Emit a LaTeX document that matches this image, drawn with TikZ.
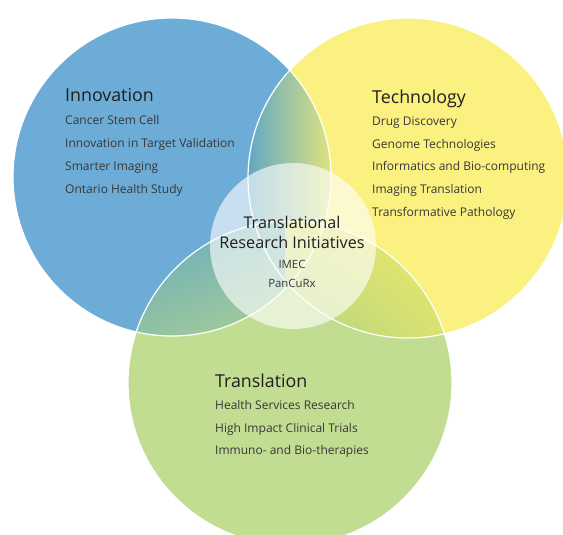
\documentclass[tikz,border=0pt]{standalone}
\usepackage{fontspec}
\setmainfont{Open Sans}
\usetikzlibrary{shadings}

\definecolor{innblue}{RGB}{108,172,215}
\definecolor{techyellow}{RGB}{250,241,128}
\definecolor{transgreen}{RGB}{192,221,146}
\definecolor{itA}{RGB}{92,166,200}
\definecolor{itB}{RGB}{236,234,118}
\definecolor{igA}{RGB}{100,170,195}
\definecolor{igB}{RGB}{118,180,182}
\definecolor{igC}{RGB}{150,196,160}
\definecolor{igD}{RGB}{182,214,140}
\definecolor{tgA}{RGB}{222,228,112}
\definecolor{tgB}{RGB}{238,234,105}
\definecolor{tgC}{RGB}{172,208,135}
\definecolor{tgD}{RGB}{215,226,112}

\def\innc{(172,177) circle (159pt)}
\def\techc{(408,178) circle (160pt)}
\def\transc{(290,383) circle (162pt)}

\begin{document}
\begin{tikzpicture}[x=1pt,y=-1pt,
	title/.style={anchor=base west,inner sep=0pt,font=\fontsize{17.8}{20}\selectfont,text=black!88},
	midtitle/.style={anchor=base,inner sep=0pt,font=\fontsize{16.2}{18}\selectfont,text=black!88},
	item/.style={anchor=base west,inner sep=0pt,font=\fontsize{12}{14}\selectfont,text=black!78},
	miditem/.style={anchor=base,inner sep=0pt,font=\fontsize{11.4}{13}\selectfont,text=black!78}]

\useasboundingbox (0,0) rectangle (563,535);
\clip (0,0) rectangle (563,535);

\fill [innblue] \innc;
\fill [techyellow] \techc;
\fill [transgreen] \transc;

% overlaps
\begin{scope}
	\clip \innc;
	\clip \techc;
	\shade [left color=itA,right color=itB] (245,60) rectangle (340,260);
\end{scope}
\begin{scope}
	\clip \innc;
	\clip \transc;
	\shade [upper left=igA,upper right=igB,lower left=igC,lower right=igD] (130,215) rectangle (295,355);
\end{scope}
\begin{scope}
	\clip \techc;
	\clip \transc;
	\shade [upper left=tgA,upper right=tgB,lower left=tgC,lower right=tgD] (285,215) rectangle (450,355);
\end{scope}

\foreach \c in {\innc,\techc,\transc} {
	\draw [white,line width=1.2pt] \c;
}

\fill [white,fill opacity=.62] (293,246) circle (83pt);

% Innovation
\node [title] (inn) at (65,102) {Innovation};
\foreach \t [count=\i] in {Cancer Stem Cell,Innovation in Target Validation,Smarter Imaging,Ontario Health Study} {
	\node [item] (inn-\i) at (65,{102+22.8*\i}) {\t};
}

% Technology
\node [title] (tech) at (372,103) {Technology};
\foreach \t [count=\i] in {Drug Discovery,Genome Technologies,Informatics and Bio-computing,Imaging Translation,Transformative Pathology} {
	\node [item] (tech-\i) at (372,{102.5+22.8*\i}) {\t};
}

% Translation
\node [title] (trans) at (215,387) {Translation};
\foreach \t [count=\i] in {Health Services Research,High Impact Clinical Trials,Immuno- and Bio-therapies} {
	\node [item] (trans-\i) at (215,{386.5+22.8*\i}) {\t};
}

% centre
\node [midtitle] (tri-1) at (292,228) {Translational};
\node [midtitle] (tri-2) at (292,248) {Research Initiatives};
\node [miditem] (imec) at (292,268) {IMEC};
\node [miditem] (pancurx) at (292,287) {PanCuRx};

\end{tikzpicture}
\end{document}
